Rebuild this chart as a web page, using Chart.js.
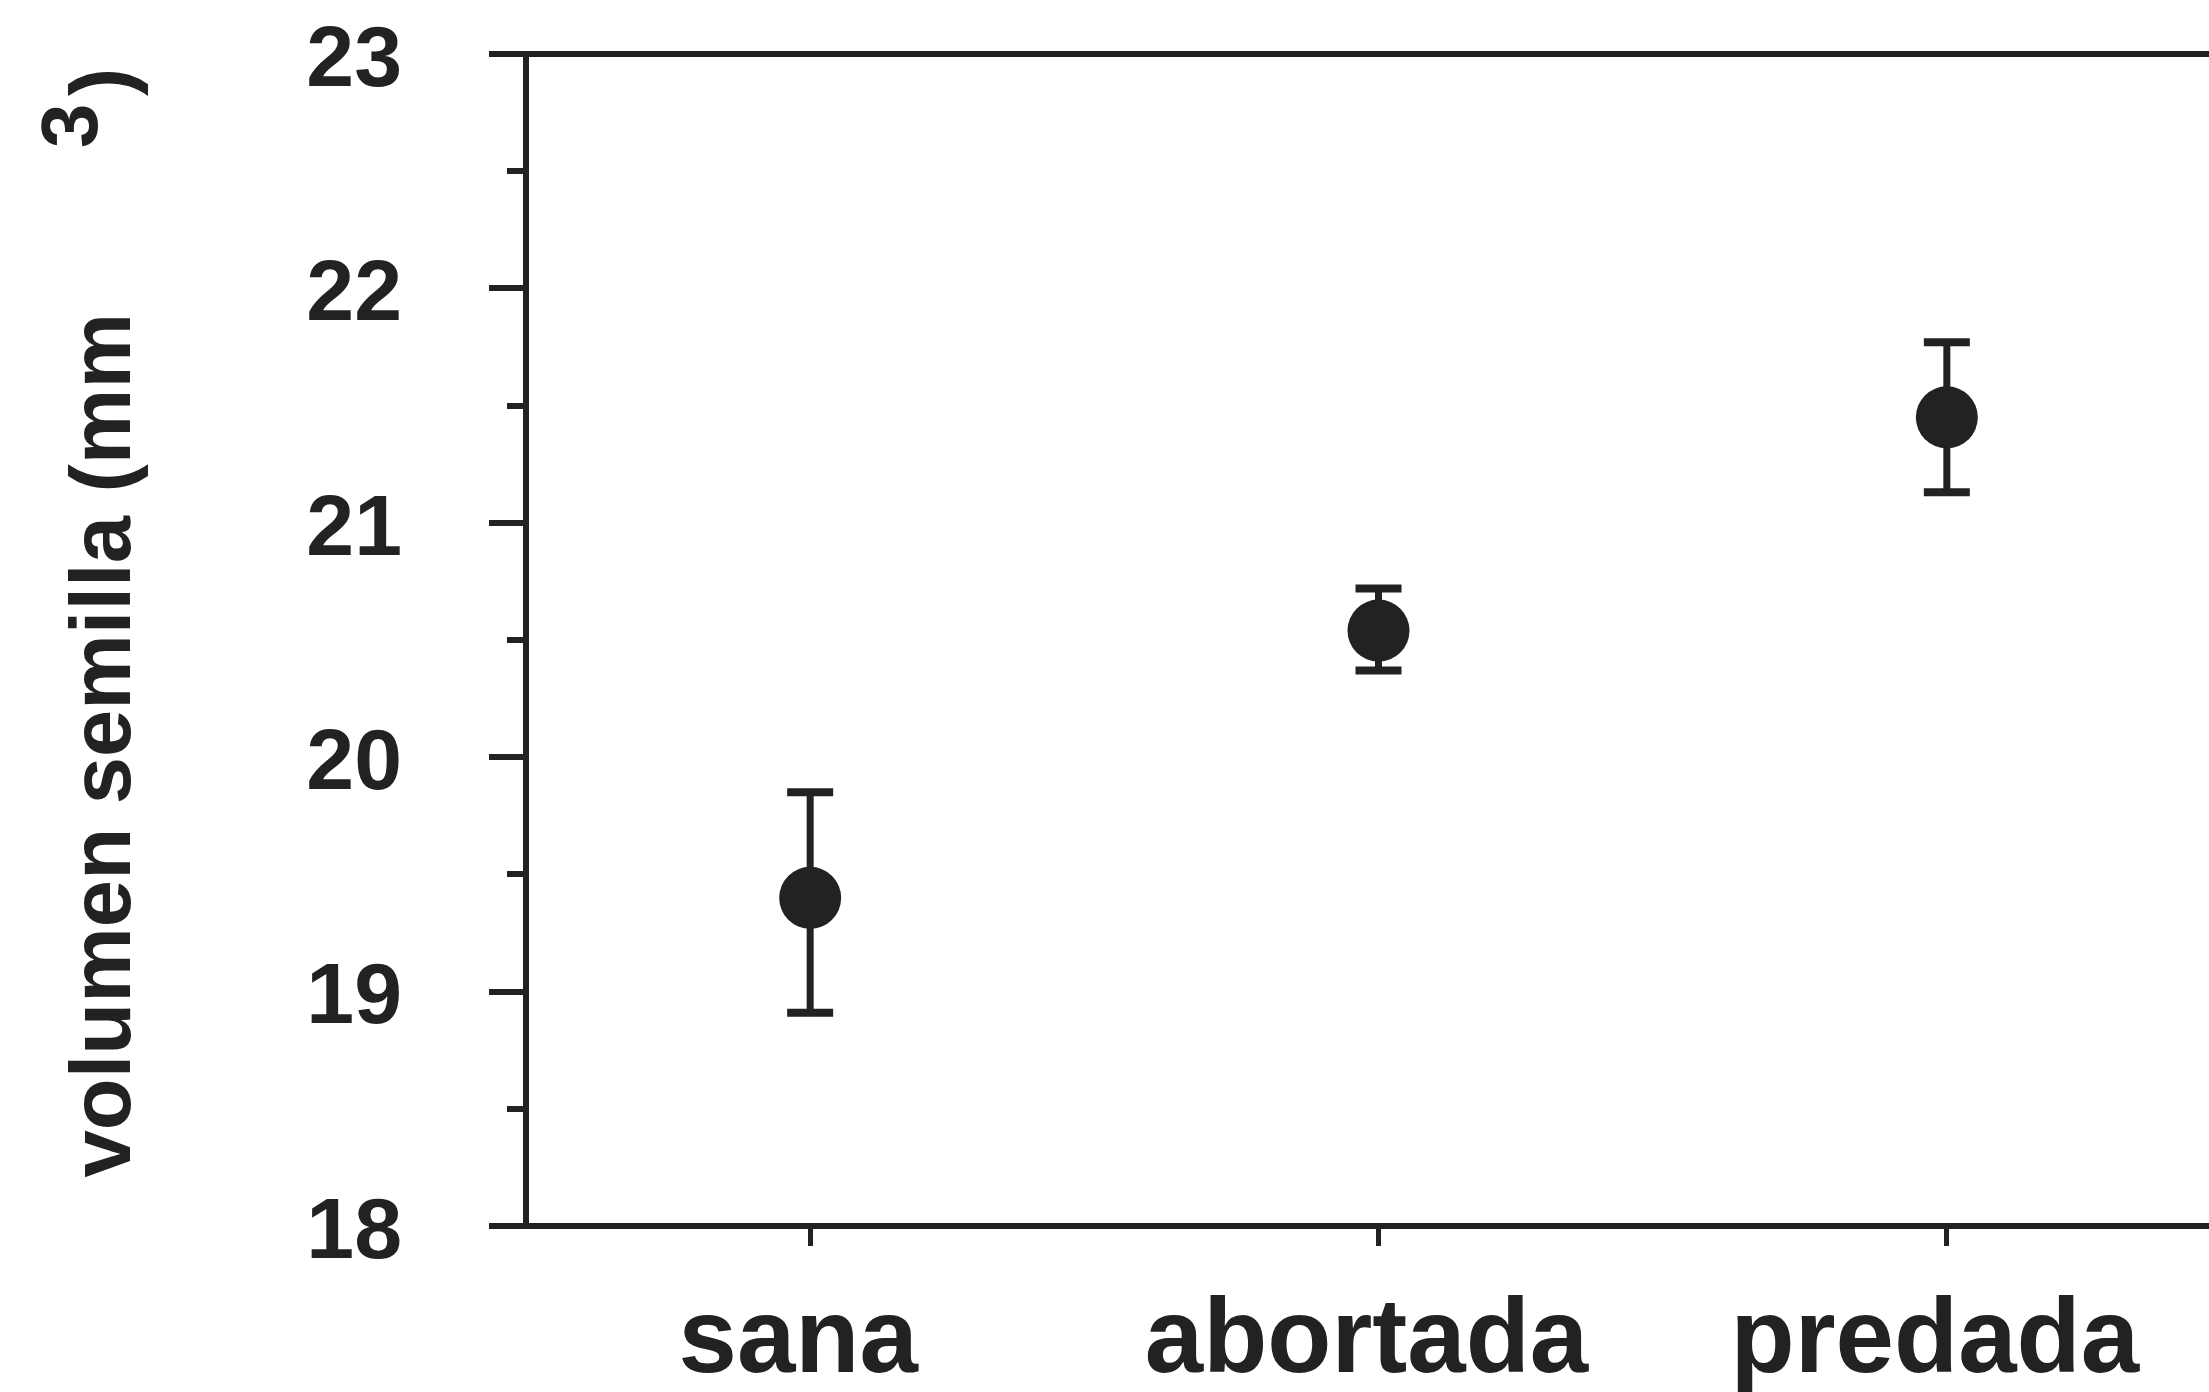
<!DOCTYPE html>
<html>
<head>
<meta charset="utf-8">
<script src="https://cdn.jsdelivr.net/npm/chart.js@4.4.1/dist/chart.umd.min.js"></script>
<style>
  html, body { margin: 0; padding: 0; background: #ffffff; overflow: hidden; }
  #wrap { width: 2262px; height: 1392px; }
</style>
</head>
<body>
<div id="wrap"><canvas id="c" width="2262" height="1392"></canvas></div>
<script>
// Seed volume by seed condition: mean with upper / lower error limits
const categories = ['sana', 'abortada', 'predada'];
const meanVolume = [19.40, 20.54, 21.45];
const upperBound = [19.85, 20.72, 21.77];
const lowerBound = [18.91, 20.37, 21.13];

// Axis ticks
const yTicks = [18, 19, 20, 21, 22, 23];
const yMinorTicks = [18.5, 19.5, 20.5, 21.5, 22.5];

// Axis title pieces (main text, superscript, closing bracket)
const yTitleMain = 'volumen semilla (mm';
const yTitleSup = '3';
const yTitleClose = ')';

const INK = '#222222';
const FAMILY = '"Liberation Sans", Arial, Helvetica, sans-serif';

// Whiskers with caps, drawn from the scales
const errorBars = {
  id: 'errorBars',
  beforeDatasetsDraw(chart) {
    const { ctx, scales: { x, y } } = chart;
    ctx.save();
    ctx.strokeStyle = INK;
    categories.forEach((c, i) => {
      const px = x.getPixelForValue(i);
      const top = y.getPixelForValue(upperBound[i]);
      const bot = y.getPixelForValue(lowerBound[i]);
      ctx.lineWidth = 7;
      ctx.beginPath();
      ctx.moveTo(px, top);
      ctx.lineTo(px, bot);
      ctx.stroke();
      ctx.lineWidth = 8;
      ctx.beginPath();
      ctx.moveTo(px - 23, top); ctx.lineTo(px + 23, top);
      ctx.moveTo(px - 23, bot); ctx.lineTo(px + 23, bot);
      ctx.stroke();
    });
    ctx.restore();
  }
};

// Short minor ticks between the labelled ones
const minorTicks = {
  id: 'minorTicks',
  afterDraw(chart) {
    const { ctx, scales: { y } } = chart;
    const left = chart.chartArea.left;
    ctx.save();
    ctx.strokeStyle = INK;
    ctx.lineWidth = 6;
    ctx.beginPath();
    yMinorTicks.forEach(v => {
      const py = Math.round(y.getPixelForValue(v));
      ctx.moveTo(left - 19, py);
      ctx.lineTo(left, py);
    });
    ctx.stroke();
    ctx.restore();
  }
};

// Rotated y-axis title with a raised exponent
const yTitle = {
  id: 'yTitle',
  afterDraw(chart) {
    const { ctx } = chart;
    ctx.save();
    ctx.fillStyle = INK;
    ctx.textBaseline = 'alphabetic';

    ctx.save();
    ctx.translate(130, 313);
    ctx.rotate(-Math.PI / 2);
    ctx.textAlign = 'right';
    ctx.font = 'bold 85px ' + FAMILY;
    ctx.fillText(yTitleMain, 0, 0);
    ctx.restore();

    ctx.save();
    ctx.translate(97, 148);
    ctx.rotate(-Math.PI / 2);
    ctx.textAlign = 'left';
    ctx.font = 'bold 80px ' + FAMILY;
    ctx.fillText(yTitleSup, 0, 0);
    ctx.restore();

    ctx.save();
    ctx.translate(130, 96);
    ctx.rotate(-Math.PI / 2);
    ctx.textAlign = 'left';
    ctx.font = 'bold 85px ' + FAMILY;
    ctx.fillText(yTitleClose, 0, 0);
    ctx.restore();

    ctx.restore();
  }
};

new Chart(document.getElementById('c'), {
  type: 'line',
  data: {
    labels: categories,
    datasets: [{
      data: meanVolume,
      showLine: false,
      pointRadius: 31,
      pointHoverRadius: 31,
      pointBackgroundColor: INK,
      pointBorderWidth: 0,
      pointBorderColor: INK
    }]
  },
  options: {
    responsive: false,
    animation: false,
    events: [],
    layout: { padding: { top: 54, right: 26, left: 0, bottom: 0 } },
    plugins: { legend: { display: false }, tooltip: { enabled: false } },
    scales: {
      x: {
        type: 'category',
        offset: true,
        grid: {
          display: true,
          drawOnChartArea: false,
          offset: false,
          tickLength: 20,
          tickWidth: 5,
          tickColor: INK
        },
        border: { display: true, color: INK, width: 6 },
        ticks: {
          color: INK,
          font: { family: FAMILY, size: 105, weight: 'bold' },
          padding: 34,
          labelOffset: -12,
          maxRotation: 0,
          autoSkip: false
        },
        afterFit: s => {
          s.height = 166;
          s.paddingLeft = 0; s.paddingRight = 0;
        }
      },
      y: {
        min: 18,
        max: 23,
        afterBuildTicks: s => { s.ticks = yTicks.map(v => ({ value: v })); },
        grid: {
          drawOnChartArea: true,
          color: c => (c.tick && c.tick.value === 23) ? INK : 'rgba(0,0,0,0)',
          lineWidth: 6,
          tickLength: 37,
          tickWidth: 6,
          tickColor: INK
        },
        border: { display: true, color: INK, width: 6 },
        ticks: {
          color: INK,
          font: { family: FAMILY, size: 86, weight: 'bold' },
          padding: 87,
          labelOffset: 8
        },
        afterFit: s => {
          s.width = 526;
          s.paddingTop = 0; s.paddingBottom = 0;
        }
      }
    }
  },
  plugins: [errorBars, minorTicks, yTitle]
});
</script>
</body>
</html>
